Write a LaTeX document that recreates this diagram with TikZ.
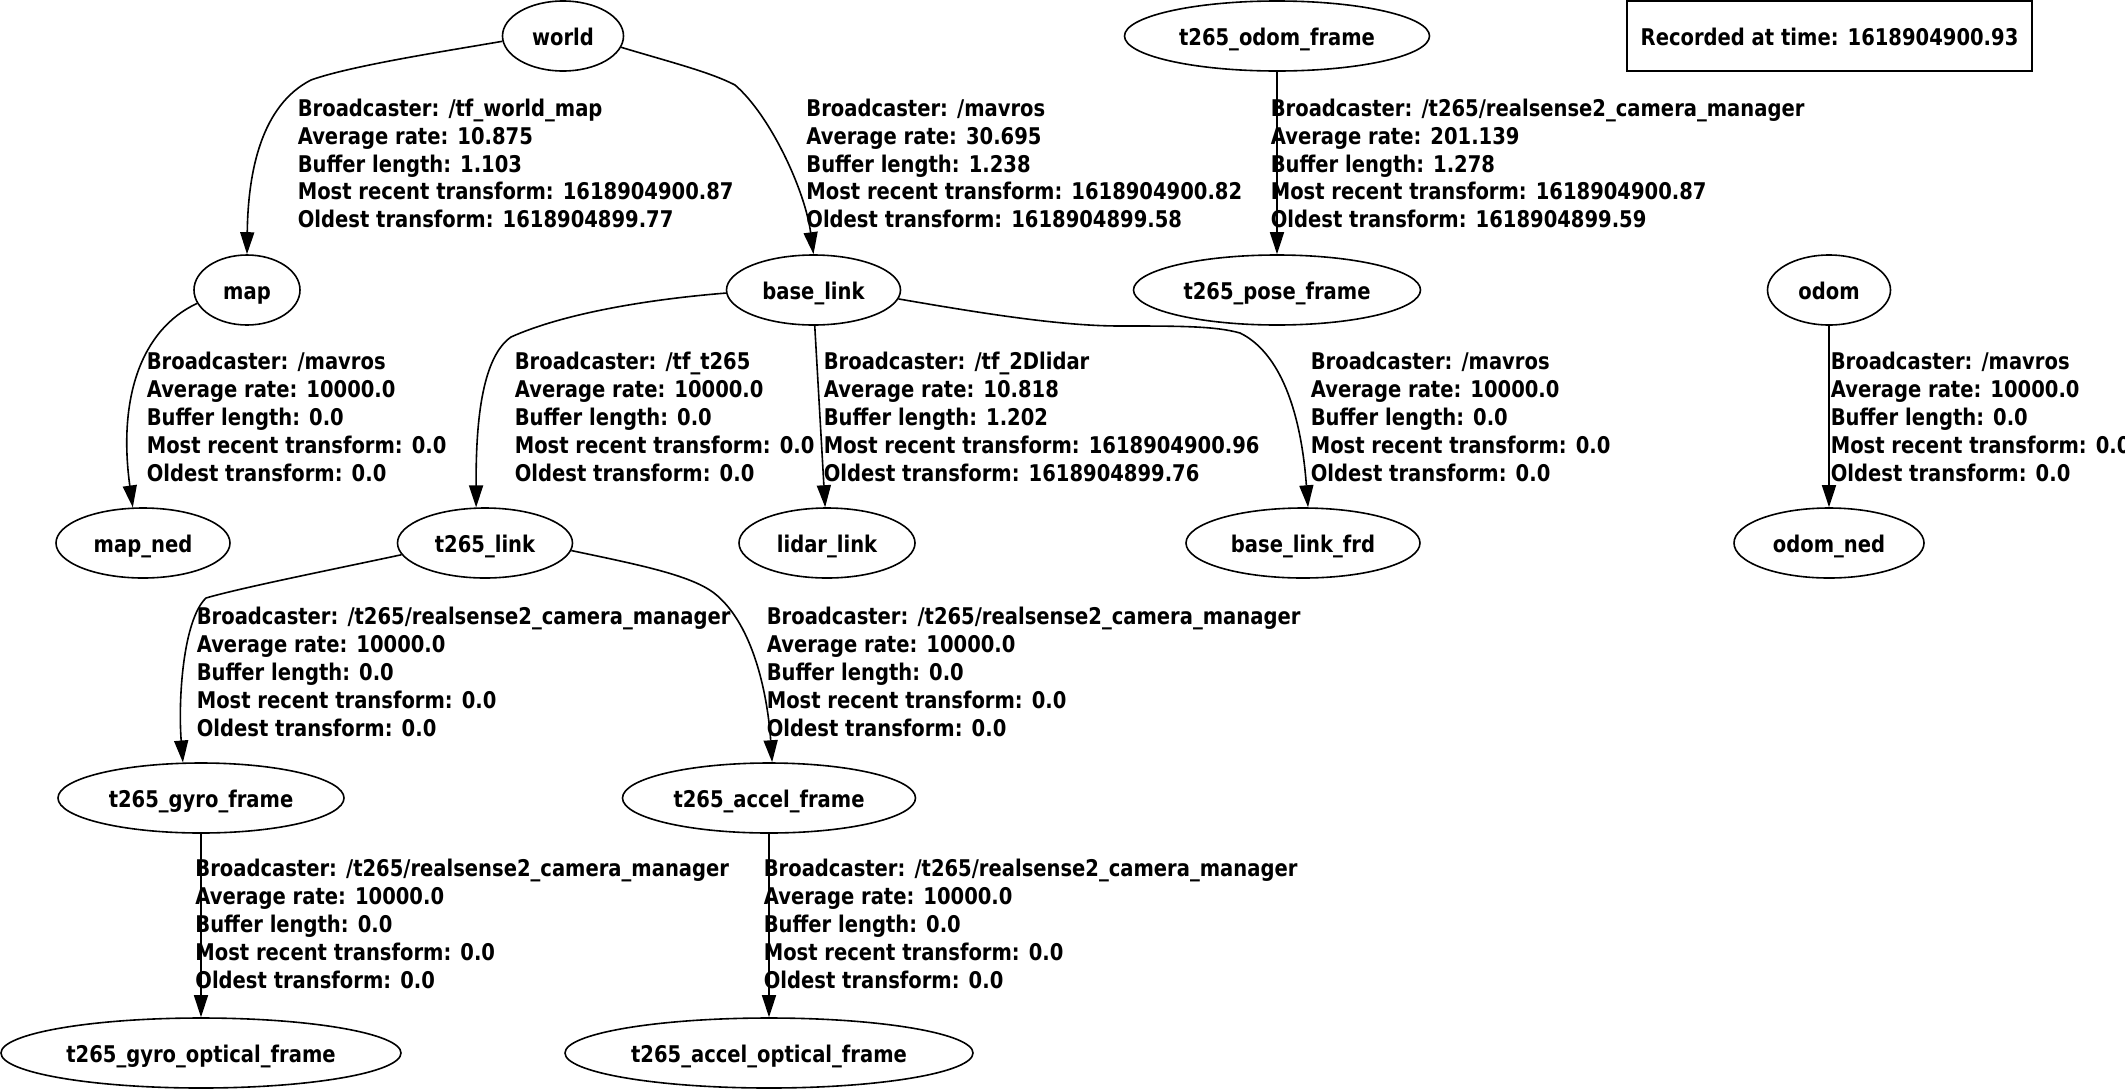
\documentclass[tikz,border=0pt]{standalone}
\usepackage{fontspec}
\newfontfamily\gvfont{DejaVu Sans}[FakeStretch=0.85]
\usetikzlibrary{arrows.meta,shapes.geometric,calc}
\begin{document}
\begin{tikzpicture}[x=0.5pt,y=-0.5pt,
  font={\gvfont\bfseries\fontsize{11.5}{13.9}\selectfont},
  line width=0.8pt,
  gnode/.style={draw, ellipse, inner sep=0pt, minimum height=35pt, text height=9.6pt, text depth=0pt},
  recbox/.style={draw, rectangle, inner sep=0pt, minimum width=202.5pt, minimum height=35pt, text height=9.6pt, text depth=0pt},
  elabel/.style={anchor=west, align=left, inner sep=0pt},
  conn/.style={-{Triangle[length=11pt,width=7pt]}}]
\useasboundingbox (0,0) rectangle (2125,1088);
% nodes
\node[gnode, minimum width=60.5pt] (world) at (563,36) {world};
\node[gnode, minimum width=152.5pt] (odomframe) at (1277,36) {t265\_odom\_frame};
\node[recbox] (rec) at (1829.5,36) {Recorded at time: 1618904900.93};
\node[gnode, minimum width=53pt] (map) at (247,290) {map};
\node[gnode, minimum width=87pt] (base) at (813.5,290) {base\_link};
\node[gnode, minimum width=143.5pt] (pose) at (1277,290) {t265\_pose\_frame};
\node[gnode, minimum width=61.5pt] (odom) at (1829,290) {odom};
\node[gnode, minimum width=87pt] (mapned) at (143,543) {map\_ned};
\node[gnode, minimum width=87.5pt] (link) at (485,543) {t265\_link};
\node[gnode, minimum width=88pt] (lidar) at (827,543) {lidar\_link};
\node[gnode, minimum width=117pt] (frd) at (1303,543) {base\_link\_frd};
\node[gnode, minimum width=95pt] (odomned) at (1829,543) {odom\_ned};
\node[gnode, minimum width=143pt] (gyro) at (201,798) {t265\_gyro\_frame};
\node[gnode, minimum width=146.5pt] (accel) at (769,798) {t265\_accel\_frame};
\node[gnode, minimum width=200pt] (gyroopt) at (201,1053) {t265\_gyro\_optical\_frame};
\node[gnode, minimum width=204pt] (accelopt) at (769,1053) {t265\_accel\_optical\_frame};
% connectors
\draw[conn] (world.185) .. controls (440,52) and (350,66) .. (311,80)
  .. controls (262,105) and (248,170) .. (map.north);
\draw[conn] (world.-11) .. controls (670,62) and (710,72) .. (735,85)
  .. controls (770,115) and (805,190) .. (base.north);
\draw[conn] (odomframe.south) -- (pose.north);
\draw[conn] (map.195) .. controls (140,330) and (118,400) .. (mapned.106);
\draw[conn] (base.182) .. controls (640,300) and (560,315) .. (511,337)
  .. controls (478,360) and (476,440) .. (link.104);
\draw[conn] (base.-88) -- (lidar.93);
\draw[conn] (base.-6) .. controls (980,313) and (1060,326) .. (1120,326)
  .. controls (1180,326) and (1215,326) .. (1240,333)
  .. controls (1275,350) and (1300,400) .. (frd.82);
\draw[conn] (odom.south) -- (odomned.north);
\draw[conn] (link.188) .. controls (330,570) and (240,588) .. (206,598)
  .. controls (183,620) and (178,700) .. (gyro.117);
\draw[conn] (link.-5) .. controls (640,565) and (690,575) .. (714,593)
  .. controls (755,625) and (768,700) .. (accel.85);
\draw[conn] (gyro.south) -- (gyroopt.north);
\draw[conn] (accel.south) -- (accelopt.north);
% labels
\node[elabel] (l1) at (297,163.5) {Broadcaster: /tf\_world\_map\\Average rate: 10.875\\Buffer length: 1.103\\Most recent transform: 1618904900.87\\Oldest transform: 1618904899.77};
\node[elabel] (l2) at (805.6,163.5) {Broadcaster: /mavros\\Average rate: 30.695\\Buffer length: 1.238\\Most recent transform: 1618904900.82\\Oldest transform: 1618904899.58};
\node[elabel] (l3) at (1270,163.5) {Broadcaster: /t265/realsense2\_camera\_manager\\Average rate: 201.139\\Buffer length: 1.278\\Most recent transform: 1618904900.87\\Oldest transform: 1618904899.59};
\node[elabel] (l4) at (146,417) {Broadcaster: /mavros\\Average rate: 10000.0\\Buffer length: 0.0\\Most recent transform: 0.0\\Oldest transform: 0.0};
\node[elabel] (l5) at (514,417) {Broadcaster: /tf\_t265\\Average rate: 10000.0\\Buffer length: 0.0\\Most recent transform: 0.0\\Oldest transform: 0.0};
\node[elabel] (l6) at (823,417) {Broadcaster: /tf\_2Dlidar\\Average rate: 10.818\\Buffer length: 1.202\\Most recent transform: 1618904900.96\\Oldest transform: 1618904899.76};
\node[elabel] (l7) at (1310,417) {Broadcaster: /mavros\\Average rate: 10000.0\\Buffer length: 0.0\\Most recent transform: 0.0\\Oldest transform: 0.0};
\node[elabel] (l8) at (1830,417) {Broadcaster: /mavros\\Average rate: 10000.0\\Buffer length: 0.0\\Most recent transform: 0.0\\Oldest transform: 0.0};
\node[elabel] (l9) at (196,672) {Broadcaster: /t265/realsense2\_camera\_manager\\Average rate: 10000.0\\Buffer length: 0.0\\Most recent transform: 0.0\\Oldest transform: 0.0};
\node[elabel] (l10) at (766,672) {Broadcaster: /t265/realsense2\_camera\_manager\\Average rate: 10000.0\\Buffer length: 0.0\\Most recent transform: 0.0\\Oldest transform: 0.0};
\node[elabel] (l11) at (194.6,924) {Broadcaster: /t265/realsense2\_camera\_manager\\Average rate: 10000.0\\Buffer length: 0.0\\Most recent transform: 0.0\\Oldest transform: 0.0};
\node[elabel] (l12) at (763,924) {Broadcaster: /t265/realsense2\_camera\_manager\\Average rate: 10000.0\\Buffer length: 0.0\\Most recent transform: 0.0\\Oldest transform: 0.0};
\end{tikzpicture}
\end{document}
